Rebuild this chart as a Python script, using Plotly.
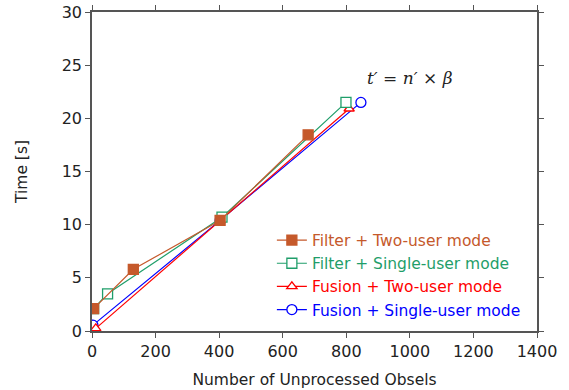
import plotly.graph_objects as go

# Data
filter_two_x = [5, 130, 403, 680]
filter_two_y = [2.1, 5.8, 10.4, 18.45]
filter_single_x = [5, 49, 409, 799]
filter_single_y = [2.1, 3.5, 10.7, 21.5]
fusion_two_x = [12, 403, 809]
fusion_two_y = [0.25, 10.4, 20.9]
fusion_single_x = [3, 403, 846]
fusion_single_y = [0.55, 10.4, 21.5]

x_ticks = [0, 200, 400, 600, 800, 1000, 1200, 1400]
y_ticks = [0, 5, 10, 15, 20, 25, 30]

c_brown = "#c5592b"
c_green = "#1f9e6a"
c_red = "#ff0000"
c_blue = "#0000ff"

series = [
    ("Filter + Two-user mode", filter_two_x, filter_two_y, c_brown, "square", 10, True),
    ("Filter + Single-user mode", filter_single_x, filter_single_y, c_green, "square", 10, False),
    ("Fusion + Two-user mode", fusion_two_x, fusion_two_y, c_red, "triangle-up", 9, False),
    ("Fusion + Single-user mode", fusion_single_x, fusion_single_y, c_blue, "circle", 10, False),
]

fig = go.Figure()
for name, xs, ys, col, sym, sz, filled in reversed(series):
    fig.add_trace(go.Scatter(
        x=xs, y=ys, mode="lines+markers",
        name=f"<span style='color:{col}'>{name}</span>",
        line=dict(color=col, width=1.2),
        marker=dict(symbol=sym, size=sz, color=col if filled else "white",
                    line=dict(color=col, width=1.3)),
    ))

axis_common = dict(
    showgrid=False, zeroline=False, showline=True, linecolor="#555555", linewidth=1.5,
    mirror="ticks", ticks="outside", ticklen=5, tickcolor="#555555", tickwidth=1.2,
    tickfont=dict(size=16, color="#222222"), automargin=False,
)

fig.update_layout(
    width=569, height=390,
    margin=dict(l=92, r=32, t=12, b=59),
    plot_bgcolor="white", paper_bgcolor="white",
    font=dict(family="DejaVu Sans", color="#222222"),
    xaxis=dict(range=[0, 1400], tickvals=x_ticks,
               title=dict(text="Number of Unprocessed Obsels", font=dict(size=15.5), standoff=14),
               **axis_common),
    yaxis=dict(range=[0, 30], tickvals=y_ticks,
               title=dict(text="Time [s]", font=dict(size=15.5), standoff=30),
               **axis_common),
    legend=dict(x=0.975, y=0.014, xanchor="right", yanchor="bottom",
                bgcolor="rgba(0,0,0,0)", font=dict(size=15.5),
                traceorder="reversed", tracegroupgap=0, itemwidth=30),
    showlegend=True,
    annotations=[dict(
        x=1000, y=23.8, xref="x", yref="y", showarrow=False,
        text="<i>t′</i> = <i>n′</i> × <i>β</i>",
        font=dict(family="DejaVu Serif", size=17, color="#222222"),
    )],
)

fig.write_html("out.html", config={"displayModeBar": False},
               post_script="document.body.style.margin='0px';")
